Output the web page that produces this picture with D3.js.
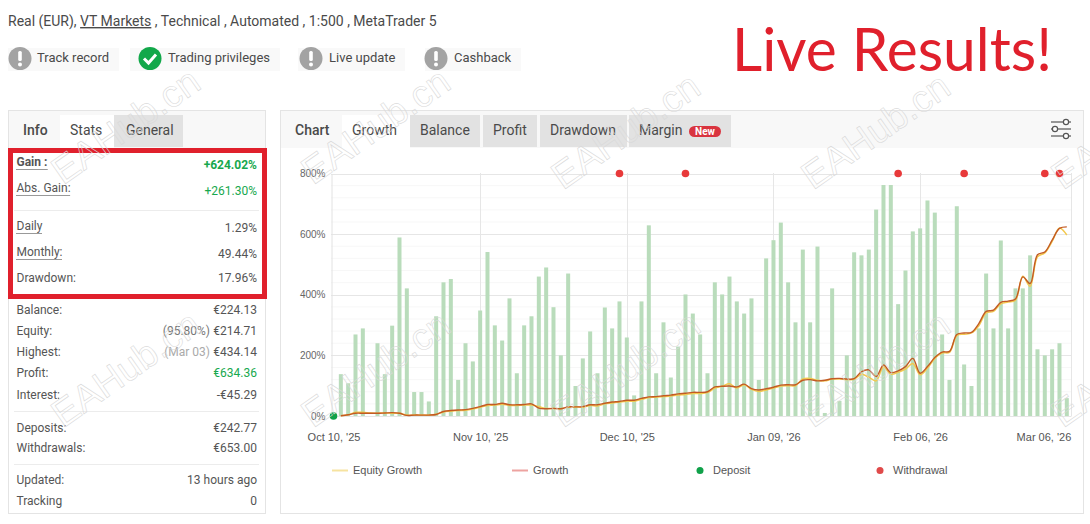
<!DOCTYPE html>
<html>
<head>
<meta charset="utf-8">
<script src="https://cdnjs.cloudflare.com/ajax/libs/d3/7.8.5/d3.min.js"></script>
<style>
  html, body { margin: 0; padding: 0; background: #fff; overflow: hidden; }
  svg { display: block; font-family: Roboto, sans-serif; }
</style>
</head>
<body>
<div id="chart"></div>
<script>
// daily trade bars, one per slot
const barValues = [
  0, 138, 108, 269, 289, 0, 240, 138, 298, 589,
  421, 79, 79, 48, 329, 441, 452, 119, 240, 180,
  348, 541, 299, 249, 388, 141, 299, 329, 460, 490,
  359, 200, 470, 99, 190, 279, 141, 358, 289, 378,
  259, 68, 378, 629, 141, 309, 127, 229, 401, 338,
  269, 141, 441, 401, 460, 378, 338, 388, 119, 520,
  580, 638, 441, 309, 549, 309, 559, 10, 421, 50,
  200, 540, 530, 549, 681, 762, 762, 369, 480, 609,
  619, 711, 671, 269, 119, 692, 170, 99, 289, 470,
  289, 579, 289, 421, 421, 530, 220, 200, 220, 240,
  59
];
const growthValues = [
  null, 1, 4, 9, 9, 9, 9, 10, 11, 9,
  2, 3, 3, 3, 5, 15, 18, 20, 21, 25,
  31, 38, 38, 42, 37, 37, 38, 40, 26, 24,
  25, 24, 30, 30, 31, 37, 37, 42, 46, 48,
  52, 52, 58, 63, 64, 67, 69, 73, 75, 78,
  78, 80, 96, 98, 99, 96, 105, 90, 86, 90,
  95, 102, 103, 103, 118, 120, 116, 118, 123, 124,
  122, 123, 146, 152, 130, 168, 143, 149, 163, 190,
  141, 163, 193, 211, 213, 269, 274, 276, 305, 345,
  349, 375, 379, 386, 459, 437, 532, 541, 580, 619,
  624
];
const equityValues = [
  null, 1, 4, 12, 12, 10, 9, 10, 9, 9,
  3, 3, 3, 3, 6, 13, 16, 18, 19, 23,
  29, 35, 36, 39, 35, 35, 36, 36, 31, 25,
  25, 24, 29, 30, 29, 35, 33, 40, 43, 46,
  49, 49, 55, 61, 62, 64, 66, 69, 71, 74,
  74, 77, 92, 98, 106, 92, 103, 88, 81, 86,
  92, 99, 100, 100, 122, 124, 118, 116, 122, 122,
  120, 121, 138, 128, 116, 162, 138, 144, 155, 173,
  136, 158, 190, 208, 210, 265, 270, 274, 298, 340,
  345, 370, 376, 382, 461, 428, 525, 538, 576, 620,
  597
];
const depositSlots = [0];
const withdrawalSlots = [39, 48, 77, 86, 97, 99];
const yTicks = [0, 200, 400, 600, 800];
const xTickSlots = [0, 20, 40, 60, 80, 100];
const xTickLabels = ["Oct 10, '25", "Nov 10, '25", "Dec 10, '25", "Jan 09, '26", "Feb 06, '26", "Mar 06, '26"];
const legendLabels = ["Equity Growth", "Growth", "Deposit", "Withdrawal"];

const badgeLabels = ["Track record", "Trading privileges", "Live update", "Cashback"];
const infoTabs = ["Stats", "General"];
const chartTabs = ["Growth", "Balance", "Profit", "Drawdown", "Margin"];
const infoLabels = ["Gain :", "Abs. Gain:", "Daily", "Monthly:", "Drawdown:", "Balance:", "Equity:", "Highest:", "Profit:", "Interest:", "Deposits:", "Withdrawals:", "Updated:", "Tracking"];
const infoValues = ["+624.02%", "+261.30%", "1.29%", "49.44%", "17.96%", "€224.13", "€214.71", "€434.14", "€634.36", "-€45.29", "€242.77", "€653.00", "13 hours ago", "0"];
const infoNotes = { 6: "(95.80%)", 7: "(Mar 03)" };

const svg = d3.select("#chart").append("svg").attr("width", 1090).attr("height", 524);

const textDark = "#4a4a4a";

// header
const head = svg.append("text").attr("x", 8).attr("y", 26).attr("font-size", 14).attr("fill", textDark);
head.append("tspan").text("Real (EUR), ");
head.append("tspan").attr("text-decoration", "underline").text("VT Markets");
head.append("tspan").text(" , Technical , Automated , 1:500 , MetaTrader 5");

svg.append("text").attr("x", 732).attr("y", 71)
  .attr("font-family", "Lato, sans-serif").attr("font-size", 60)
  .attr("textLength", 320).attr("lengthAdjust", "spacingAndGlyphs")
  .attr("fill", "#e0202c").text("Live Results!");

// badges
const badgeBox = [[8, 119], [130, 280], [298, 405], [425, 521]];
const badgeIconX = [20, 150, 311, 436];
const badgeTextX = [37, 168, 329, 454];
badgeLabels.forEach((label, i) => {
  const [x0, x1] = badgeBox[i];
  const ok = i === 1;
  svg.append("rect").attr("x", x0).attr("y", 48).attr("width", x1 - x0).attr("height", 23).attr("fill", "#f9f9f9");
  const cx = badgeIconX[i];
  svg.append("circle").attr("cx", cx).attr("cy", 58.5).attr("r", 11.5).attr("fill", ok ? "#12a84a" : "#a3a3a3");
  if (ok) {
    svg.append("path").attr("d", `M${cx - 6},58.5 L${cx - 1.5},63 L${cx + 6},54.5`)
      .attr("fill", "none").attr("stroke", "#fff").attr("stroke-width", 3);
  } else {
    svg.append("rect").attr("x", cx - 1.8).attr("y", 51).attr("width", 3.6).attr("height", 10).attr("rx", 1.5).attr("fill", "#fff");
    svg.append("circle").attr("cx", cx).attr("cy", 64.5).attr("r", 2).attr("fill", "#fff");
  }
  svg.append("text").attr("x", badgeTextX[i]).attr("y", 62).attr("font-size", 13).attr("fill", textDark).text(label);
});

// panels
svg.append("rect").attr("x", 8.5).attr("y", 110.5).attr("width", 257).attr("height", 403).attr("fill", "#fff").attr("stroke", "#e4e4e4");
svg.append("rect").attr("x", 280.5).attr("y", 110.5).attr("width", 803).attr("height", 403).attr("fill", "#fff").attr("stroke", "#e4e4e4");
svg.append("rect").attr("x", 9).attr("y", 111).attr("width", 256).attr("height", 37).attr("fill", "#f8f8f8");
svg.append("rect").attr("x", 281).attr("y", 111).attr("width", 802).attr("height", 37).attr("fill", "#f8f8f8");

// tabs
const tabStyle = (label, x0, x1, active, pad) => {
  svg.append("rect").attr("x", x0).attr("y", 115).attr("width", x1 - x0).attr("height", active ? 35 : 32)
    .attr("fill", active ? "#fff" : "#e2e2e2");
  svg.append("text").attr("x", x0 + pad).attr("y", 135).attr("font-size", 14).attr("fill", textDark).text(label);
};
svg.append("text").attr("x", 23).attr("y", 135).attr("font-size", 14).attr("font-weight", 500).attr("fill", textDark).text("Info");
const infoTabBox = [[60, 114], [114, 183]];
infoTabs.forEach((t, i) => tabStyle(t, infoTabBox[i][0], infoTabBox[i][1], i === 0, i === 0 ? 10 + 0 : 12));
svg.append("text").attr("x", 295).attr("y", 135).attr("font-size", 14).attr("font-weight", 500).attr("fill", textDark).text("Chart");
const chartTabBox = [[342, 410], [410, 480], [483, 537], [540, 627], [629, 731]];
chartTabs.forEach((t, i) => tabStyle(t, chartTabBox[i][0], chartTabBox[i][1], i === 0, 10));
svg.append("rect").attr("x", 689).attr("y", 126).attr("width", 32).attr("height", 11).attr("rx", 5.5).attr("fill", "#d9343f");
svg.append("text").attr("x", 705).attr("y", 135).attr("text-anchor", "middle").attr("font-size", 10).attr("font-weight", 700).attr("fill", "#fff").text("New");

// settings icon
[[122, 1066], [129, 1055], [136, 1066]].forEach(([y, k]) => {
  svg.append("line").attr("x1", 1051).attr("x2", 1071).attr("y1", y).attr("y2", y).attr("stroke", "#555").attr("stroke-width", 1.2);
  svg.append("circle").attr("cx", k).attr("cy", y).attr("r", 2.6).attr("fill", "#fff").attr("stroke", "#555").attr("stroke-width", 1.2);
});

// info rows
const labelY = [166, 192, 230, 256, 282, 314, 335, 356, 377, 399, 432, 452, 484, 505];
const valueY = [169, 195, 232, 258, 282, 314, 335, 356, 377, 399, 432, 452, 484, 505];
infoLabels.forEach((label, i) => {
  const lt = svg.append("text").attr("x", 16.5).attr("y", labelY[i]).attr("font-size", 12).attr("fill", "#555")
    .attr("font-weight", i === 0 ? 700 : 400).text(label);
  if (i < 4) {
    const w = lt.node().getComputedTextLength();
    svg.append("line").attr("x1", 16.5).attr("x2", 16.5 + w).attr("y1", labelY[i] + 3.5).attr("y2", labelY[i] + 3.5)
      .attr("stroke", "#333").attr("stroke-dasharray", "1 1");
  }
  const green = i === 0 || i === 1 || i === 8;
  svg.append("text").attr("x", 257).attr("y", valueY[i]).attr("text-anchor", "end").attr("font-size", 12)
    .attr("font-weight", i === 0 ? 700 : 400).attr("fill", green ? "#17a84e" : "#555").text(infoValues[i]);
  if (infoNotes[i]) {
    svg.append("text").attr("x", 210).attr("y", valueY[i]).attr("text-anchor", "end").attr("font-size", 12)
      .attr("fill", i === 6 ? "#777" : "#aaa").text(infoNotes[i]);
  }
});
[210.5, 411.5, 464.5].forEach(y => {
  svg.append("line").attr("x1", 14).attr("x2", 259).attr("y1", y).attr("y2", y).attr("stroke", "#ececec");
});
svg.append("rect").attr("x", 10.5).attr("y", 150.5).attr("width", 254).attr("height", 146)
  .attr("fill", "none").attr("stroke", "#e0202c").attr("stroke-width", 5);

// chart scales
const x = d3.scaleLinear().domain([0, 100]).range([333.5, 1066.8]);
const y = d3.scaleLinear().domain([0, 800]).range([416, 173.5]);
const plotRight = 1071.5;

const plot = svg.append("g");
// minor grid
d3.range(40, 800, 40).filter(v => v % 200 !== 0).forEach(v => {
  plot.append("line").attr("x1", 331).attr("x2", plotRight).attr("y1", y(v)).attr("y2", y(v)).attr("stroke", "#f7f7f7");
});
const yAxis = d3.axisLeft(y).tickValues(yTicks).tickFormat(d => d + "%").tickSize(0).tickPadding(6);
const yG = svg.append("g").attr("transform", "translate(331.5,0)").call(yAxis);
yG.select(".domain").attr("stroke", "#e2e2e2");
yG.selectAll("text").attr("font-family", "Liberation Sans, sans-serif").attr("font-size", 10).attr("fill", "#666");
yTicks.forEach(v => {
  plot.append("line").attr("x1", 331).attr("x2", plotRight).attr("y1", Math.round(y(v)) + 0.5).attr("y2", Math.round(y(v)) + 0.5).attr("stroke", "#e6e6e6");
});
xTickSlots.slice(1, 5).forEach(s => {
  plot.append("line").attr("x1", Math.round(x(s)) + 0.5).attr("x2", Math.round(x(s)) + 0.5).attr("y1", 173).attr("y2", 416).attr("stroke", "#e6e6e6");
});
plot.append("line").attr("x1", plotRight).attr("x2", plotRight).attr("y1", 173).attr("y2", 416).attr("stroke", "#e6e6e6");

const xAxis = d3.axisBottom(x).tickValues(xTickSlots).tickFormat((d, i) => xTickLabels[i]).tickSize(0).tickPadding(17);
const xG = svg.append("g").attr("transform", "translate(0,416)").call(xAxis);
xG.select(".domain").remove();
xG.selectAll("text").attr("font-family", "Liberation Sans, sans-serif").attr("font-size", 11).attr("fill", "#555");
xG.selectAll("text").filter((d, i) => i === 5).attr("text-anchor", "end").attr("dx", 4);

// bars
svg.append("g").selectAll("rect").data(barValues).join("rect")
  .attr("x", (d, i) => x(i) - 2)
  .attr("y", d => y(d))
  .attr("width", 4)
  .attr("height", d => y(0) - y(d))
  .attr("fill", "#b9dcbb");

// lines
const line = d3.line()
  .defined(d => d !== null)
  .x((d, i) => x(i))
  .y(d => y(d))
  .curve(d3.curveCatmullRom.alpha(0.5));
svg.append("path").attr("d", line(equityValues)).attr("fill", "none").attr("stroke", "#f3c94f").attr("stroke-width", 1.5);
svg.append("path").attr("d", line(growthValues)).attr("fill", "none").attr("stroke", "#c25a24").attr("stroke-width", 1.4);

// markers
svg.append("g").selectAll("circle").data(withdrawalSlots).join("circle")
  .attr("cx", d => x(d)).attr("cy", y(800)).attr("r", 3.8).attr("fill", "#e8393a");
svg.append("g").selectAll("circle").data(depositSlots).join("circle")
  .attr("cx", d => x(d)).attr("cy", y(0)).attr("r", 3.8).attr("fill", "#10a14a");

// legend
const legendX = [353, 533, 713, 893];
const legendColors = ["#f6e3a0", "#eda3a0", "#10a14a", "#e04a4a"];
legendLabels.forEach((label, i) => {
  if (i < 2) {
    svg.append("line").attr("x1", legendX[i] - 21).attr("x2", legendX[i] - 5).attr("y1", 470.5).attr("y2", 470.5)
      .attr("stroke", legendColors[i]).attr("stroke-width", 2);
  } else {
    svg.append("circle").attr("cx", legendX[i] - 13).attr("cy", 470.5).attr("r", 3.5).attr("fill", legendColors[i]);
  }
  svg.append("text").attr("x", legendX[i]).attr("y", 474).attr("font-family", "Liberation Sans, sans-serif")
    .attr("font-size", 11).attr("fill", "#555").text(label);
});

// watermark, outlined text repeated over the page
[[125, 125], [375, 125], [625, 130], [875, 130], [1125, 130], [125, 368], [375, 368], [625, 368], [875, 368], [1125, 368]].forEach(([cx, cy]) => {
  svg.append("text").attr("transform", `translate(${cx},${cy}) rotate(-35)`).attr("text-anchor", "middle").attr("dy", 14)
    .attr("font-family", "Liberation Sans, sans-serif").attr("font-size", 38)
    .attr("fill", "none").attr("stroke", "#d9d9d9").attr("stroke-width", 0.6).text("EAHub.cn");
});
</script>
</body>
</html>
